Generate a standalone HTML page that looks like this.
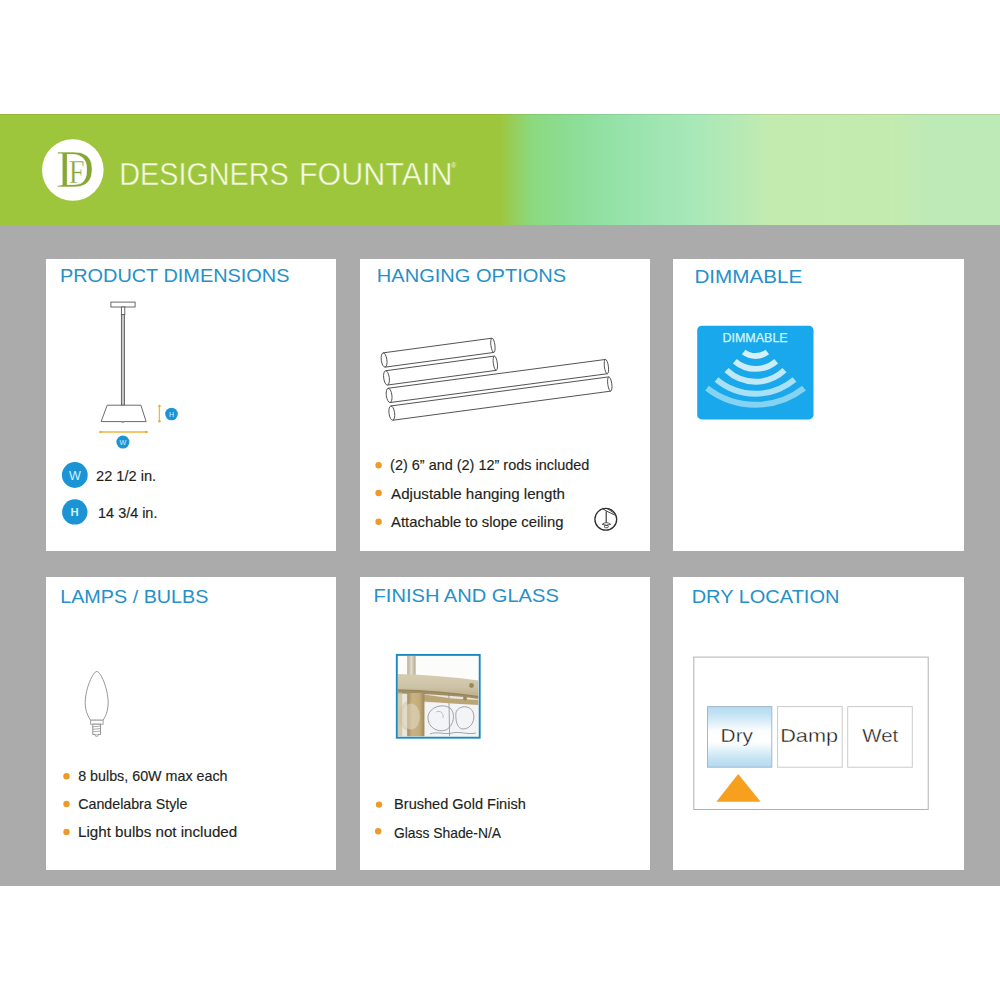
<!DOCTYPE html>
<html>
<head>
<meta charset="utf-8">
<style>
html,body{margin:0;padding:0;background:#fff;}
body{width:1000px;height:1000px;position:relative;overflow:hidden;font-family:"Liberation Sans",sans-serif;}
.banner{position:absolute;left:0;top:114px;width:1000px;height:111px;box-shadow:inset 0 1px 0 rgba(70,90,20,0.12);
background:linear-gradient(90deg,#9ec63c 0px,#9ec63c 500px,#95cf5e 515px,#8cd97f 532px,#8bdc8f 560px,#8fdf9f 590px,#99e3ad 630px,#a7e8b8 690px,#b4e9b6 730px,#c3ebb0 770px,#c4ebaf 890px,#bdeab6 930px,#bdeab6 1000px);}
.gray{position:absolute;left:0;top:225px;width:1000px;height:661px;background:#ababab;}
.card{position:absolute;background:#fff;}
svg.ov{position:absolute;left:0;top:0;}
</style>
</head>
<body>
<div class="banner"></div>
<div class="gray"></div>
<div class="card" style="left:46px;top:259px;width:290px;height:292px"></div>
<div class="card" style="left:360px;top:259px;width:290px;height:292px"></div>
<div class="card" style="left:673px;top:259px;width:291px;height:292px"></div>
<div class="card" style="left:46px;top:577px;width:290px;height:293px"></div>
<div class="card" style="left:360px;top:577px;width:290px;height:293px"></div>
<div class="card" style="left:673px;top:577px;width:291px;height:293px"></div>

<svg class="ov" width="1000" height="1000" viewBox="0 0 1000 1000" font-family="Liberation Sans, sans-serif">
<!-- Logo -->
<circle cx="72.8" cy="170" r="30.8" fill="#fff"/>
<text id="t1" x="56.30" y="187.00" font-family="Liberation Serif, serif" font-size="53.8" fill="#86a636" stroke="#fff" stroke-width="0.5" textLength="38.00" lengthAdjust="spacingAndGlyphs">D</text>
<text id="t2" x="68.80" y="183.40" font-family="Liberation Serif, serif" font-size="33.8" fill="#86a636" stroke="#fff" stroke-width="0.4" textLength="15.80" lengthAdjust="spacingAndGlyphs">F</text>
<text id="t3" x="119.20" y="185.10" font-size="31.6" fill="#f6fbe6" stroke="#9ec63c" stroke-width="0.45" textLength="169.60" lengthAdjust="spacingAndGlyphs">DESIGNERS</text>
<text id="t4" x="298.90" y="185.10" font-size="31.6" fill="#f6fbe6" stroke="#9ec63c" stroke-width="0.45" textLength="153.60" lengthAdjust="spacingAndGlyphs">FOUNTAIN</text>
<text id="t5" x="451.2" y="168.2" font-size="6.5" fill="#f6fbe6">®</text>

<!-- Titles -->
<g fill="#2590c9" font-size="18">
<text id="t6" x="59.90" y="282.00" textLength="229.60" lengthAdjust="spacingAndGlyphs">PRODUCT DIMENSIONS</text>
<text id="t7" x="376.80" y="282.00" textLength="189.40" lengthAdjust="spacingAndGlyphs">HANGING OPTIONS</text>
<text id="t8" x="694.40" y="282.50" textLength="107.90" lengthAdjust="spacingAndGlyphs">DIMMABLE</text>
<text id="t9" x="60.20" y="603.00" textLength="148.30" lengthAdjust="spacingAndGlyphs">LAMPS / BULBS</text>
<text id="t10" x="373.60" y="602.00" textLength="185.20" lengthAdjust="spacingAndGlyphs">FINISH AND GLASS</text>
<text id="t11" x="691.70" y="603.00" textLength="147.70" lengthAdjust="spacingAndGlyphs">DRY LOCATION</text>
</g>

<!-- Body text -->
<g fill="#231f20" font-size="14.5" stroke="#231f20" stroke-width="0.15">
<text id="t12" x="96.00" y="480.50" textLength="60.20" lengthAdjust="spacingAndGlyphs">22 1/2 in.</text>
<text id="t13" x="98.10" y="517.70" textLength="59.30" lengthAdjust="spacingAndGlyphs">14 3/4 in.</text>
<text id="t14" x="390.10" y="470.00" textLength="199.20" lengthAdjust="spacingAndGlyphs">(2) 6” and (2) 12” rods included</text>
<text id="t15" x="391.10" y="498.70" textLength="173.90" lengthAdjust="spacingAndGlyphs">Adjustable hanging length</text>
<text id="t16" x="391.10" y="526.80" textLength="172.30" lengthAdjust="spacingAndGlyphs">Attachable to slope ceiling</text>
<text id="t17" x="78.20" y="781.20" textLength="149.30" lengthAdjust="spacingAndGlyphs">8 bulbs, 60W max each</text>
<text id="t18" x="78.20" y="809.10" textLength="109.20" lengthAdjust="spacingAndGlyphs">Candelabra Style</text>
<text id="t19" x="78.00" y="837.20" textLength="159.20" lengthAdjust="spacingAndGlyphs">Light bulbs not included</text>
<text id="t20" x="394.10" y="809.00" textLength="131.70" lengthAdjust="spacingAndGlyphs">Brushed Gold Finish</text>
<text id="t21" x="394.00" y="837.60" textLength="107.00" lengthAdjust="spacingAndGlyphs">Glass Shade-N/A</text>
</g>

<!-- Card1 lamp -->
<g fill="#fff" stroke="#5a5a5a" stroke-width="0.9">
<rect x="110.9" y="302.1" width="24.2" height="4.9"/>
<rect x="121.4" y="307" width="3.4" height="7.6"/>
<rect x="121.4" y="314.6" width="3" height="90.6" fill="#c8c8c8"/>
<path d="M107.2 405.2 L140.9 405.2 L146.1 421.6 L101.1 421.6 Z"/>
<path d="M121.4 421.8 Q122.8 423.4 124.3 421.8" stroke-width="0.7"/>
</g>
<g stroke="#eeb543" stroke-width="1.3" fill="#e8ae3c">
<line x1="100" y1="432" x2="147" y2="432"/>
<circle cx="100.5" cy="432" r="1.3" stroke="none"/>
<circle cx="146.5" cy="432" r="1.3" stroke="none"/>
<line x1="159.4" y1="405.7" x2="159.4" y2="421.6"/>
<circle cx="159.4" cy="406" r="1.3" stroke="none"/>
<circle cx="159.4" cy="421.3" r="1.3" stroke="none"/>
</g>
<g fill="#1b94d5">
<circle cx="122.9" cy="442.1" r="6.5"/>
<circle cx="171.5" cy="414" r="6.3"/>
<circle cx="74.8" cy="475" r="12.9"/>
<circle cx="74.8" cy="511.9" r="12.7"/>
</g>
<g fill="#d2f2ff" text-anchor="middle">
<text x="122.9" y="445" font-size="7.2">W</text>
<text x="171.5" y="416.6" font-size="7">H</text>
<text x="75" y="480" font-size="12.6">W</text>
<text x="74.7" y="516.1" font-size="11.3" font-weight="bold">H</text>
</g>

<!-- Card2 rods -->
<g fill="none" stroke="#4a4a4a" stroke-width="0.9">
<g transform="translate(384.1,360) rotate(-7.69)"><ellipse cx="0" cy="0" rx="2.8" ry="7.2"/><ellipse cx="109.8" cy="0" rx="2" ry="7.2"/><path d="M0 -7.2 H109.8 M0 7.2 H109.8"/></g>
<g transform="translate(386.5,377.9) rotate(-7.69)"><ellipse cx="0" cy="0" rx="2.8" ry="7.2"/><ellipse cx="109.8" cy="0" rx="2" ry="7.2"/><path d="M0 -7.2 H109.8 M0 7.2 H109.8"/></g>
<g transform="translate(389.1,395.4) rotate(-7.55)"><ellipse cx="0" cy="0" rx="2.8" ry="7.2"/><ellipse cx="219.2" cy="0" rx="2" ry="7.2"/><path d="M0 -7.2 H219.2 M0 7.2 H219.2"/></g>
<g transform="translate(391.8,413.1) rotate(-7.6)"><ellipse cx="0" cy="0" rx="2.8" ry="7.2"/><ellipse cx="219.9" cy="0" rx="2" ry="7.2"/><path d="M0 -7.2 H219.9 M0 7.2 H219.9"/></g>
</g>
<!-- slope icon -->
<g fill="none" stroke="#2e2e2e" stroke-width="1.1">
<circle cx="605.8" cy="519.3" r="10.9" stroke-width="1.3"/>
<path d="M602.5 508.4 L606.3 511 L615.6 515.4" stroke-width="0.9"/>
<path d="M607 508.3 L614.6 513.6" stroke-width="0.8"/>
<path d="M606.2 511.2 V522.6"/>
<path d="M602.2 524.3 Q606.3 521 610.6 524.3 Q606.3 526.3 602.2 524.3 Z" stroke-width="0.8"/>
<rect x="604.5" y="525.4" width="3.7" height="2.3" rx="0.8" stroke-width="0.8"/>
</g>

<!-- Card3 dimmable -->
<rect x="697.2" y="325.8" width="116.3" height="93.6" rx="4.5" fill="#19a8eb"/>
<text id="t30" x="722.40" y="342.40" font-size="12.7" fill="#d4f7ff" stroke="#d4f7ff" stroke-width="0.25" textLength="65.30" lengthAdjust="spacingAndGlyphs">DIMMABLE</text>
<g fill="none" stroke-width="5.9">
<path d="M743.7 352 A19.4 19.4 0 0 0 767.3 352" stroke="#d6f0f8"/>
<path d="M734.8 361.2 A31.7 31.7 0 0 0 776.2 361.2" stroke="#cdedf8"/>
<path d="M726.5 370.2 A42.3 42.3 0 0 0 784.5 370.2" stroke="#c0e8f7"/>
<path d="M716.5 379.5 A60.7 60.7 0 0 0 794.5 379.5" stroke="#a8e0f6"/>
<path d="M707 388.2 A79.1 79.1 0 0 0 804 388.2" stroke="#84d3f3"/>
</g>

<!-- Card4 bulb -->
<g fill="#fff" stroke="#8a8a8a" stroke-width="0.9">
<path d="M96.8 671.4 C100.6 671.6 107.9 688 108.2 702.5 C108.1 712 105 717 103.2 720.2 L90.5 720.2 C88.6 717 85.3 712 85.2 702.5 C85.5 688 93 671.6 96.8 671.4 Z"/>
<rect x="90.6" y="720.2" width="12.5" height="4" stroke="#9a9a9a"/>
<rect x="92.8" y="724.2" width="7.8" height="10.2"/>
<path d="M92.8 726.8 L100.6 726 M92.8 729.3 L100.6 728.5 M92.8 731.8 L100.6 731" stroke-width="0.7"/>
<path d="M95 734.4 L95.6 736.2 L97.8 736.2 L98.4 734.4" stroke-width="0.8"/>
</g>

<!-- Card5 photo -->
<defs>
<linearGradient id="gband" x1="0" y1="0" x2="0" y2="1"><stop offset="0" stop-color="#d6ccb2"/><stop offset="0.55" stop-color="#cdc3a6"/><stop offset="1" stop-color="#bdae88"/></linearGradient>
<linearGradient id="gpost" x1="0" y1="0" x2="1" y2="0"><stop offset="0" stop-color="#a48d5c"/><stop offset="0.3" stop-color="#c9b382"/><stop offset="0.7" stop-color="#c4ad7b"/><stop offset="1" stop-color="#9e8858"/></linearGradient>
<linearGradient id="grod" x1="0" y1="0" x2="1" y2="0"><stop offset="0" stop-color="#b6ad9a"/><stop offset="0.5" stop-color="#e2dccd"/><stop offset="1" stop-color="#b3a993"/></linearGradient>
<linearGradient id="gglass" x1="0" y1="0" x2="0" y2="1"><stop offset="0" stop-color="#e6e3da"/><stop offset="1" stop-color="#eeeff1"/></linearGradient>
<filter id="fsoft" x="-5%" y="-5%" width="110%" height="110%"><feGaussianBlur stdDeviation="0.45"/></filter>
<clipPath id="cphoto"><rect x="397.7" y="656" width="80.8" height="80.5"/></clipPath>
</defs>
<g clip-path="url(#cphoto)"><g filter="url(#fsoft)">
<rect x="397.7" y="656" width="80.8" height="80.5" fill="#fcfcfb"/>
<rect x="407.2" y="656" width="8.4" height="20" fill="url(#grod)"/>
<rect x="397.7" y="689" width="80.8" height="47.5" fill="url(#gglass)"/>
<path d="M397.7 689 L478.5 689 L478.5 736.5 L397.7 736.5 Z" fill="#e9e6de"/>
<path d="M424.4 703 L478.5 700 L478.5 736.5 L424.4 736.5 Z" fill="#f3f4f6"/>
<g fill="none" stroke="#7f838b" stroke-width="0.9" opacity="0.8">
<path d="M428 716 C430 707 442 703 450 708 C456 713 454 726 446 730 C437 733 427 727 428 716 Z"/>
<path d="M456 712 C459 705 470 705 473 712 C476 720 471 729 463 729 C458 729 455 722 456 712"/>
<path d="M448.8 692 L449.6 736"/>
<path d="M430 734 C437 731 445 735 452 733 C460 731 468 735 476 733"/>
<path d="M436 712 C440 710 444 713 443 718" stroke-width="0.6"/>
</g>
<ellipse cx="409.5" cy="716" rx="11" ry="15" fill="#ddd5c2"/>
<path d="M397.7 674 Q440 675 478.5 680.5 L478.5 697 Q440 692 397.7 690 Z" fill="url(#gband)"/>
<path d="M397.7 689.3 Q440 690.5 478.5 696 L478.5 699 Q446 694 397.7 693.5 Z" fill="#8c7848" opacity="0.8"/>
<path d="M424 694.5 L452 698.5 L478.5 700 L478.5 705 L452 703.5 L424 701.5 Z" fill="#bba574"/>
<circle cx="471.5" cy="685.5" r="2.4" fill="#9a875c"/>
<circle cx="465" cy="698.5" r="2" fill="#9c895c"/>
<rect x="407.2" y="693" width="17.2" height="43.5" fill="url(#gpost)"/>
<ellipse cx="411" cy="716.5" rx="9" ry="13" fill="#e6dfcd" opacity="0.5"/>
<rect x="397.7" y="692" width="4.5" height="44.5" fill="#c9b88e" opacity="0.6"/>
</g></g>
<rect x="396.8" y="654.9" width="82.9" height="82.8" fill="none" stroke="#1a89bf" stroke-width="1.9"/>

<!-- Card6 dry location -->
<defs>
<linearGradient id="gdry" x1="0" y1="0" x2="0" y2="1"><stop offset="0" stop-color="#b6dbf0"/><stop offset="0.12" stop-color="#c2e2f3"/><stop offset="0.4" stop-color="#fbfdfe"/><stop offset="0.58" stop-color="#ffffff"/><stop offset="0.85" stop-color="#c6e4f4"/><stop offset="1" stop-color="#b4d9ef"/></linearGradient>
</defs>
<rect x="693.8" y="657.1" width="234.4" height="152.4" fill="#fff" stroke="#b2b2b2" stroke-width="1"/>
<rect x="707.5" y="706.6" width="64.3" height="60.6" fill="url(#gdry)" stroke="#9fb9cb" stroke-width="1"/>
<rect x="777.6" y="706.6" width="64.6" height="60.6" fill="#fff" stroke="#cbcbcb" stroke-width="1"/>
<rect x="847.7" y="706.6" width="64.6" height="60.6" fill="#fff" stroke="#cbcbcb" stroke-width="1"/>
<g fill="#161616" font-size="18.4" stroke="#fff" stroke-width="0.35">
<text id="t31" x="720.60" y="742.10" textLength="32.40" lengthAdjust="spacingAndGlyphs">Dry</text>
<text id="t32" x="780.20" y="742.10" textLength="57.90" lengthAdjust="spacingAndGlyphs">Damp</text>
<text id="t33" x="862.30" y="742.10" textLength="35.90" lengthAdjust="spacingAndGlyphs">Wet</text>
</g>
<path d="M738.2 774.1 L760.6 801.8 L716.4 801.8 Z" fill="#f6a01e"/>

<!-- Bullets -->
<g fill="#ef9a28">
<circle cx="378.6" cy="465.3" r="3.2"/>
<circle cx="378.6" cy="493" r="3.2"/>
<circle cx="378.6" cy="521.8" r="3.2"/>
<circle cx="66.5" cy="776.2" r="3.2"/>
<circle cx="66.5" cy="804" r="3.2"/>
<circle cx="66.5" cy="832" r="3.2"/>
<circle cx="379" cy="804.6" r="3.2"/>
<circle cx="378.2" cy="831.3" r="3.2"/>
</g>
</svg>
</body>
</html>
